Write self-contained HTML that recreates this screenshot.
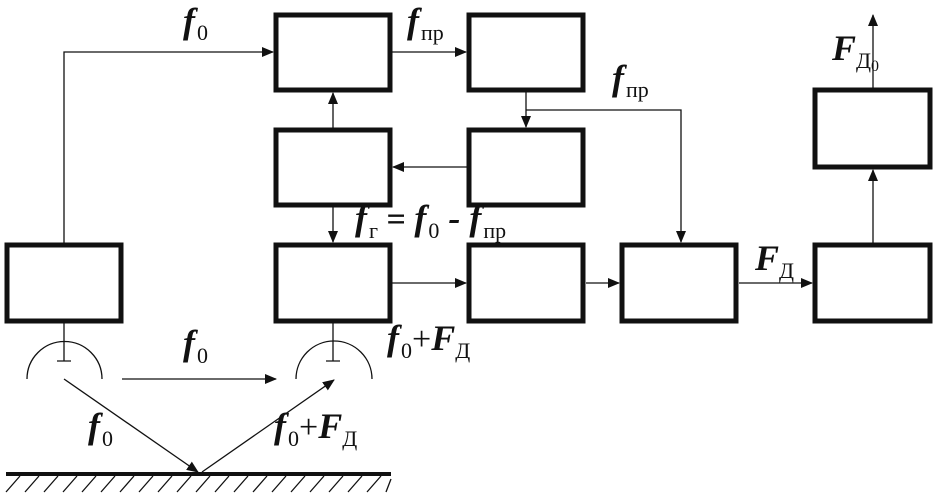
<!DOCTYPE html>
<html><head><meta charset="utf-8"><style>
html,body{margin:0;padding:0;background:#fff}
svg{display:block}
.b{fill:none;stroke:#111;stroke-width:5}
.l{stroke:#111;stroke-width:1.3;fill:none}
.t{font-family:"Liberation Serif",serif;font-weight:bold;font-style:italic;font-size:36px;fill:#111}
.s{font-family:"Liberation Serif",serif;font-size:22px;fill:#111;font-style:normal;font-weight:normal}
.p{font-family:"Liberation Serif",serif;font-size:34px;fill:#111;font-style:normal;font-weight:normal}
</style></head><body>
<svg width="937" height="498" viewBox="0 0 937 498">
<defs><marker id="a" markerWidth="12" markerHeight="10" refX="11" refY="5" orient="auto" markerUnits="userSpaceOnUse"><path d="M0,0 L12,5 L0,10 Z" fill="#111"/></marker></defs>
<rect class="b" x="7" y="245" width="114" height="76"/>
<rect class="b" x="276" y="15" width="114" height="75"/>
<rect class="b" x="469" y="15" width="114" height="75"/>
<rect class="b" x="276" y="130" width="114" height="75"/>
<rect class="b" x="469" y="130" width="114" height="75"/>
<rect class="b" x="276" y="245" width="114" height="76"/>
<rect class="b" x="469" y="245" width="114" height="76"/>
<rect class="b" x="622" y="245" width="114" height="76"/>
<rect class="b" x="815" y="245" width="115" height="76"/>
<rect class="b" x="815" y="90" width="115" height="77"/>
<path class="l" d="M64,243 V52 H273" marker-end="url(#a)"/>
<path class="l" d="M392,52 H466" marker-end="url(#a)"/>
<path class="l" d="M526,92 V127" marker-end="url(#a)"/>
<path class="l" d="M526,110 H681 V242" marker-end="url(#a)"/>
<path class="l" d="M467,167 H393" marker-end="url(#a)"/>
<path class="l" d="M333,128 V93" marker-end="url(#a)"/>
<path class="l" d="M333,207 V242" marker-end="url(#a)"/>
<path class="l" d="M392,283 H466" marker-end="url(#a)"/>
<path class="l" d="M586,283 H619" marker-end="url(#a)"/>
<path class="l" d="M739,283 H812" marker-end="url(#a)"/>
<path class="l" d="M873,243 V170" marker-end="url(#a)"/>
<path class="l" d="M873,88 V15" marker-end="url(#a)"/>
<path class="l" d="M64,323 V361 M57,361 H71 M333,323 V361 M326,361 H340"/>
<path class="l" d="M27,379 A37,37 0 0 1 102,379 M296,379 A37,37 0 0 1 372,379"/>
<path class="l" d="M122,379 H276" marker-end="url(#a)"/>
<path class="l" d="M64,379 L198,472" marker-end="url(#a)"/>
<path class="l" d="M202,472 L334,380" marker-end="url(#a)"/>
<path d="M6,474 H391" stroke="#111" stroke-width="4"/>
<path class="l" d="M20,476 L6,492 M39,476 L25,492 M58,476 L44,492 M77,476 L63,492 M96,476 L82,492 M115,476 L101,492 M134,476 L120,492 M153,476 L139,492 M172,476 L158,492 M191,476 L177,492 M210,476 L196,492 M229,476 L215,492 M248,476 L234,492 M267,476 L253,492 M286,476 L272,492 M305,476 L291,492 M324,476 L310,492 M343,476 L329,492 M362,476 L348,492 M381,476 L367,492 M391,479 L386,492"/>
<text class="t" x="183" y="33">f<tspan class="s" dx="2" dy="7">0</tspan></text>
<text class="t" x="407" y="33">f<tspan class="s" dx="2" dy="7">пр</tspan></text>
<text class="t" x="612" y="90">f<tspan class="s" dx="2" dy="7">пр</tspan></text>
<text class="t" x="832" y="60">F<tspan class="s" dy="8">Д</tspan><tspan class="s" dy="3" style="font-size:16px">0</tspan></text>
<text class="t" x="355" y="230">f<tspan class="s" dx="2" dy="8">г</tspan><tspan class="p" dy="-8" style="font-weight:bold"> = </tspan>f<tspan class="s" dx="2" dy="8">0</tspan><tspan dy="-8"> - </tspan>f<tspan class="s" dx="2" dy="8">пр</tspan></text>
<text class="t" x="755" y="270">F<tspan class="s" dy="8">Д</tspan></text>
<text class="t" x="387" y="350">f<tspan class="s" dx="2" dy="8">0</tspan><tspan class="p" dy="-8">+</tspan>F<tspan class="s" dy="8">Д</tspan></text>
<text class="t" x="183" y="355">f<tspan class="s" dx="2" dy="8">0</tspan></text>
<text class="t" x="88" y="438">f<tspan class="s" dx="2" dy="8">0</tspan></text>
<text class="t" x="274" y="438">f<tspan class="s" dx="2" dy="8">0</tspan><tspan class="p" dy="-8">+</tspan>F<tspan class="s" dy="8">Д</tspan></text>
</svg>
</body></html>
